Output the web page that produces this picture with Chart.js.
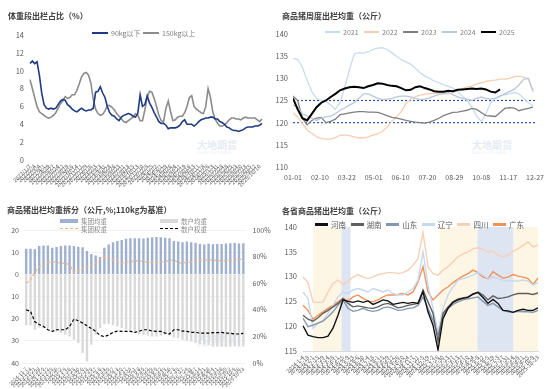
<!DOCTYPE html>
<html>
<head>
<meta charset="utf-8">
<script src="https://cdn.jsdelivr.net/npm/chart.js@4.4.1/dist/chart.umd.min.js"></script>
<style>
  body { margin: 0; background: #fff; font-family: "Noto Sans CJK SC", sans-serif; }
  #page { position: relative; width: 550px; height: 389px; overflow: hidden; }
  .panel { position: absolute; width: 275px; }
  .panel canvas { position: absolute; left: 0; top: 0; }
  .title { position: absolute; font-size: 8px; font-weight: bold; color: #404040; white-space: nowrap; line-height: 1; }
  .lg { position: absolute; font-size: 7px; color: #7f7f7f; white-space: nowrap; line-height: 1; display: flex; align-items: center; }
  .lg i { display: inline-block; margin-right: 3px; }
  .wm { position: absolute; color: #e6ecf3; font-weight: bold; font-size: 10px; line-height: 1; }
  .wm small { display: block; font-size: 4px; letter-spacing: 0.6px; font-weight: normal; }
</style>
</head>
<body>
<div id="page">
  <div class="panel" id="p1" style="left:0;top:0;height:195px">
    <div class="wm" style="left:197px;top:140px">大地期货<small>DADI FUTURES</small></div>
    <canvas id="c1" width="275" height="195"></canvas>
    <div class="title" style="left:8px;top:12px">体重段出栏占比（%）</div>
  </div>
  <div class="panel" id="p2" style="left:275px;top:0;height:195px">
    <div class="wm" style="left:197px;top:140px">大地期货<small>DADI FUTURES</small></div>
    <canvas id="c2" width="275" height="195"></canvas>
    <div class="title" style="left:7px;top:12px">商品猪周度出栏均重（公斤）</div>
  </div>
  <div class="panel" id="p3" style="left:0;top:195px;height:194px">
    <div class="wm" style="left:197px;top:138px">大地期货<small>DADI FUTURES</small></div>
    <canvas id="c3" width="275" height="194"></canvas>
    <div class="title" style="left:7px;top:11px">商品猪出栏均重拆分（公斤,%;110kg为基准）</div>
  </div>
  <div class="panel" id="p4" style="left:275px;top:195px;height:194px">
    <div class="wm" style="left:197px;top:140px">大地期货<small>DADI FUTURES</small></div>
    <canvas id="c4" width="275" height="194"></canvas>
    <div class="title" style="left:7px;top:12px">各省商品猪出栏均重（公斤）</div>
  </div>
</div>
<script>
// ---- data: 体重段出栏占比 (%), every two weeks
var p1Names = ['90kg以下', '150kg以上'];
var under90 = [10.8,11.1,10.8,11.0,9.5,7.5,6.2,5.8,5.7,5.8, 5.7,5.8,6.2,6.6,6.8,6.7,6.2,6.0,5.7,5.5,
  5.4,5.6,5.8,5.6,5.5,5.6,5.6,5.8,7.6,7.7, 8.2,7.5,7.0,6.0,5.3,5.0,4.9,4.6,4.4,4.8,
  5.0,5.1,5.2,5.1,4.9,4.8,5.2,7.3,6.0,6.2, 7.2,6.4,5.9,5.3,4.8,4.3,4.1,4.1,3.9,3.5,
  3.6,3.6,3.6,3.7,3.9,4.3,4.5,4.0,4.0,4.0, 3.8,4.0,4.3,4.5,4.6,4.7,4.7,4.8,4.8,4.6,
  4.6,4.3,4.2,4.0,3.7,3.6,3.4,3.3,3.3,3.2, 3.3,3.4,3.6,3.7,3.7,3.7,3.8,3.8,3.9,4.1];
var over150 = [9.0,8.0,7.0,6.0,5.4,5.2,5.0,4.8,4.7,4.8, 5.0,5.3,5.8,6.3,6.6,7.1,6.9,7.0,7.3,7.3,
  7.8,8.5,9.3,9.7,9.8,9.5,8.6,6.8,5.7,5.2, 5.0,5.1,5.5,6.1,6.1,5.9,5.6,5.2,4.9,4.6,
  4.3,4.2,4.4,4.6,4.8,5.2,5.0,4.4,4.4,5.6, 7.0,7.7,7.6,6.9,6.0,5.0,4.4,4.3,5.8,6.6,
  5.4,4.4,4.5,4.8,4.9,4.9,5.3,6.0,7.0,7.2, 6.0,5.7,5.5,5.3,5.2,6.0,8.0,7.0,5.4,4.6,
  4.1,3.8,3.8,3.9,4.2,4.5,4.7,4.7,4.6,4.6, 4.5,4.7,4.8,4.7,4.7,4.7,4.7,4.5,4.3,4.6];

// ---- data: 商品猪周度出栏均重 (公斤), weekly by year
var p2Years = ['2021', '2022', '2023', '2024', '2025'];
var y2021 = [134.5,134.3,132.5,129.5,127,125.5,125,124.8,124,123, 124.5,128,132,135.5,135.8,135.7,136,136.5,136.8,136.9,
  136.5,135.8,135,134.2,133.7,133.2,132.3,131.3,130.5,130, 129.4,129,128.6,128.2,127.8,127,126,125,123.5,121.5,
  120.3,122,124.5,125.5,126,126.3,126.5,126.8,126.5,125.5, 124.5,123.8];
var y2022 = [122.2,121.3,119.8,118.3,117.6,116.8,116.4,116.3,116.3,116.6, 117.2,117.2,117.1,116.8,116.6,116.6,116.8,117.2,117.5,118,
  119,120.3,121.3,122.5,124.3,125.3,125.9,126.2,126.4,126.6, 126.6,126.6,126.5,126.5,126.8,127.3,127.7,128,128.3,128.7,
  129,129.3,129.5,129.6,129.8,129.8,130,130.4,130.5,130.3, 129.8,127.4];
var y2023 = [126,125,121,119.5,120.5,121,121.2,120,120.3,120.8, 121.8,122,122.2,122.4,122.5,122.5,122.4,122.4,122.3,122,
  121.6,121.2,121,120.8,120.5,120.3,120.1,120,119.9,120.1, 120.5,121,121.6,122,122.3,122.4,122.6,122.8,123.2,123,
  122.3,121.6,121.5,121.4,122.3,123.2,123.4,123.3,122.7,123, 123.2,123.5];
var y2024 = [124,123.5,122,121.5,121,120.5,121,121.3,121.5,122, 122.8,123.3,124,124.5,125.5,126.5,126.5,126,125.5,125.2,
  125.3,125.5,125.8,126,126,125.8,125.5,125.2,125.3,125.6, 126,126.3,126.6,126.8,126.3,125.8,125.5,125.3,125,125.5,
  125.8,125.5,125.3,125.5,126,126.5,127,127.5,128.5,129.8, 130,127];
var y2025 = [125.5,123,121,120.5,122,123.5,124.5,125,125.8,126.5, 127.3,127.7,128,128.1,128,127.8,128.2,128.5,128.9,128.8,
  128.5,128.3,128.2,127.8,127.3,127.4,128,128.2,127.8,127.5, 127.1,127,127,127.2,127.1,127.4,127.5,127.6,127.7,127.6,
  127.7,127.5,127,126.8,127.5];
var refLevels = [125, 120];

// ---- data: 出栏均重拆分, weekly, deviation from 110kg and weights (%)
var p3Names = ['集团均重', '散户均重', '集团权重', '散户权重'];
var groupDev = [11.5,11.5,11.3,12.8,13,13,12,12.3,12.8,13, 13,12.8,12.5,12.2,10.5,9.2,8.5,7.8,12,13.5,
  14.5,15,15.5,16,16.3,16.3,16.3,16.2,16.5,16.7, 16.8,16.7,16.5,16.3,15,14.8,14.5,14.8,14.5,14.2,
  13.7,13.5,13.8,13.6,13.7,13.7,13.9,14,14.1,13.9, 14];
var retailDev = [23,23,25,24,24.3,24.3,25,25.8,26.5,27.3, 28,29.5,31,35.5,39.3,31.8,27.3,24.3,22.5,22.3,
  23,23.5,24.3,25,25.8,26.5,27,27.3,27.6,28, 28,27.7,27.3,27.6,28.5,28.8,29.5,30,30.3,31,
  31.5,31.8,32,32.5,32.5,32.5,32.5,32.5,32.5,32.5, 32.5];
var groupShare = [60,62.5,68,72.5,74,75.5,76,75.8,75,75, 74,68,69,70.8,72.5,74,75,78,80,80,
  77.5,76,75,76,76,77,76.5,76.5,75.8,75.5, 75.5,76,76.5,77,77.5,75.5,75,75.8,76,76.5,
  77.5,77.5,77.5,77.3,77,77,77,77.3,77.5,78, 78];
var retailShare = [40,38.8,31,29,27.5,25,23.8,25,25,25, 27.5,33,31.8,30,28,26,23.8,20.8,19.8,21,
  23,24,23.8,23.8,23.8,23,23.8,25,25,24, 23.8,23.8,22.5,21.8,25,25,24,23.8,23,23,
  22.5,22.5,22.5,22.8,22.8,23,22.5,22.3,21.8,21.8, 22.3];

// ---- data: 各省商品猪出栏均重 (公斤), every two weeks
var p4Names = ['河南', '湖南', '山东', '辽宁', '四川', '广东'];
var henan = [120.1,118.2,117.9,117.7,117.7,118,119.6,122.2,125.3,125, 124.8,125.1,124.8,125.1,124.4,124.8,125.3,125.1,124.4,124.6,
  124.8,124.6,124.8,124.6,126.9,122.9,120.2,115.2,121.5,123.6, 124.8,125.3,125.6,125.8,126.5,126.8,125.8,124.6,125.4,124.6,
  123.2,123.1,122.8,123.2,123.4,123.2,123.2,123.7];
var hunan = [122.2,121.4,121,121.7,122.6,123.2,123.9,124.6,125.6,124.6, 123.9,124.1,123.9,123.7,123.6,123.9,124.4,124.6,124.2,123.7,
  123.9,124.2,124.4,124.6,127.3,124.9,122.6,116.9,122.6,123.9, 124.9,125.5,125.7,125.9,126.4,126.9,126.3,125.3,126.1,125.6,
  125.7,125.9,126.3,126.6,126.6,126.6,126.4,126.7];
var shandong = [121.6,119.9,120.2,120.6,121,121.9,122.9,124.2,125.3,123.6, 123,123.2,123.6,123.2,123,123.2,123.7,123.9,123.6,123.2,
  123.3,123.6,123.7,124.2,125.9,123.6,121.2,118.2,122.2,123.6, 124.4,124.9,125.3,125.5,125.7,125.9,125,124.2,124.6,123.9,
  123.2,122.9,122.8,123,122.9,122.9,122.8,123.2];
var liaoning = [126.9,125.6,119.6,120.6,121.2,122.6,124.2,125.9,126.9,126.6, 127.3,127.6,127.3,126.9,127.6,127.3,126.9,127.3,126.6,126.3,
  126.3,126.9,127.6,129.3,135,128.3,123.6,118.9,123.6,126.3, 127.9,129.3,129.6,129.9,130.3,130.8,130.3,129.6,129.9,129.6,
  129.3,129.1,129.1,129.1,129.3,129.1,128.3,128.8];
var sichuan = [129.9,128.8,124.9,124.8,124.9,126.9,128.6,129.3,128.4,129.1, 129.9,130.4,129.9,129.6,129.9,130.4,130.6,130.8,130.8,130.6,
  130.8,131.3,132.3,133.6,138.9,132,130.6,130.3,131.3,132, 133,134,134.6,135,135.6,135.8,135.5,135,135.1,134.3,
  134,134.3,135.1,135.6,136.3,137,136,136.4];
var guangdong = [124.2,123.2,121.4,122.2,122.9,123.6,124.2,124.9,125.6,125.1, 125.9,126.3,125.6,125.1,124.9,125.3,125.9,126.3,126.3,126.4,
  126.6,126.3,126.9,128.9,132,126.9,125.3,126.3,127.3,127.9, 128.8,129.5,130.1,130.6,131.3,130.8,129.9,129.6,131,130.3,
  129.7,129.9,130.4,130.1,129.9,129.6,128.4,129.7];
// shaded periods, as positions on the date axis (start index, end index)
var p4Bands = [[2, 7.7, '#fdf6e4'], [7.7, 9.5, '#dde5f2'], [27.3, 34.9, '#fdf6e4'], [34.9, 42.1, '#dde5f2'], [42.1, 47, '#fdf6e4']];

function fmt(d, sep) { return d.getFullYear() + sep + (d.getMonth() + 1) + sep + d.getDate(); }
function dateRange(y, m, d, n, step, sep) {
  var out = [];
  for (var i = 0; i < n; i++) out.push(fmt(new Date(y, m - 1, d + i * step), sep));
  return out;
}
var p1Dates = dateRange(2022, 1, 7, under90.length, 14, '/');
var p3Dates = dateRange(2024, 11, 7, groupDev.length, 7, '-');
var p4Dates = dateRange(2024, 1, 4, henan.length, 14, '-');

Chart.defaults.font.family = '"Noto Sans CJK SC", "Liberation Sans", sans-serif';
Chart.defaults.color = '#595959';
Chart.defaults.animation = false;

function addLegend(panelId, items, fontSize, color) {
  var panel = document.getElementById(panelId);
  items.forEach(function (it) {
    var d = document.createElement('div');
    d.className = 'lg';
    d.style.left = it.left + 'px';
    d.style.top = it.top + 'px';
    if (fontSize) d.style.fontSize = fontSize + 'px';
    if (color) d.style.color = color;
    var sw = document.createElement('i');
    sw.style.width = it.w + 'px';
    if (it.dash) { sw.style.height = '0'; sw.style.borderTop = it.h + 'px dashed ' + it.color; }
    else { sw.style.height = it.h + 'px'; sw.style.background = it.color; }
    d.appendChild(sw);
    d.appendChild(document.createTextNode(it.text));
    panel.appendChild(d);
  });
}

var noPlugins = { legend: { display: false }, tooltip: { enabled: false } };
var noGrid = { display: false, drawTicks: false };

// chart 1
new Chart(document.getElementById('c1'), {
  type: 'line',
  data: {
    labels: p1Dates,
    datasets: [
      { label: p1Names[0], data: under90, borderColor: '#1f3b84', borderWidth: 1.6, pointRadius: 0 },
      { label: p1Names[1], data: over150, borderColor: '#8c8c8c', borderWidth: 1.6, pointRadius: 0 }
    ]
  },
  options: {
    responsive: false,
    layout: { padding: { left: 0, right: 13, top: 35, bottom: 0 } },
    plugins: noPlugins,
    scales: {
      x: {
        grid: noGrid, border: { display: false },
        ticks: { autoSkip: false, minRotation: 45, maxRotation: 45, font: { size: 5.5 }, padding: 3,
          callback: function (v, i) { return i % 2 === 0 ? p1Dates[i] : ''; } },
        afterFit: function (s) { s.height = 35; }
      },
      y: {
        min: 0, max: 14,
        grid: noGrid, border: { display: false },
        ticks: { stepSize: 2, font: { size: 7.5 }, padding: 6 },
        afterFit: function (s) { s.width = 30; }
      }
    }
  }
});
addLegend('p1', [
  { text: p1Names[0], color: '#1f3b84', left: 92, top: 29.5, w: 16, h: 2 },
  { text: p1Names[1], color: '#8c8c8c', left: 143, top: 29.5, w: 16, h: 2 }
], 7, '#7f7f7f');

// chart 2
function weekly(arr) { return arr.map(function (v, i) { return { x: i * 7, y: v }; }); }
var p2Colors = ['#c9dbf1', '#f8cdb0', '#7f7f7f', '#b7c7de', '#000000'];
var p2Series = [y2021, y2022, y2023, y2024, y2025];
var p2Sets = [];
for (var k = p2Series.length - 1; k >= 0; k--) {
  p2Sets.push({ label: p2Years[k], data: weekly(p2Series[k]), borderColor: p2Colors[k],
    borderWidth: k === 4 ? 2 : 1.3, pointRadius: 0 });
}
refLevels.forEach(function (lv) {
  p2Sets.push({ label: 'ref' + lv, data: [{ x: 0, y: lv }, { x: 360, y: lv }], borderColor: '#2e54a8',
    borderWidth: 1.2, borderDash: [2, 2], pointRadius: 0 });
});
new Chart(document.getElementById('c2'), {
  type: 'line',
  data: { datasets: p2Sets },
  options: {
    responsive: false,
    layout: { padding: { left: 0, right: 12, top: 34, bottom: 0 } },
    plugins: noPlugins,
    scales: {
      x: {
        type: 'linear', min: 0, max: 360,
        grid: noGrid, border: { display: false },
        ticks: { stepSize: 40, font: { size: 7 }, maxRotation: 0, padding: 6,
          callback: function (v) {
            var d = new Date(2025, 0, 1 + v);
            return String(d.getMonth() + 1).padStart(2, '0') + '-' + String(d.getDate()).padStart(2, '0');
          } },
        afterFit: function (s) { s.height = 28; }
      },
      y: {
        min: 110, max: 140,
        grid: noGrid, border: { display: false },
        ticks: { stepSize: 5, font: { size: 7.5 }, padding: 5 },
        afterFit: function (s) { s.width = 18; }
      }
    }
  }
});
addLegend('p2', p2Years.map(function (y, i) {
  return { text: y, color: p2Colors[i], left: 50 + i * 39, top: 28.5, w: 15, h: i === 4 ? 2.5 : 2 };
}), 7, '#7f7f7f');

// chart 3
new Chart(document.getElementById('c3'), {
  data: {
    labels: p3Dates,
    datasets: [
      { type: 'line', label: p3Names[3], data: retailShare, yAxisID: 'y1', borderColor: '#000000',
        borderWidth: 1.2, borderDash: [3, 2], pointRadius: 0 },
      { type: 'line', label: p3Names[2], data: groupShare, yAxisID: 'y1', borderColor: '#f4b183',
        borderWidth: 1.2, borderDash: [3, 2], pointRadius: 0 },
      { type: 'bar', label: p3Names[0], data: groupDev, yAxisID: 'y', backgroundColor: '#9eb0cd',
        barPercentage: 0.55, categoryPercentage: 1 },
      { type: 'bar', label: p3Names[1], data: retailDev.map(function (v) { return -v; }), yAxisID: 'y',
        backgroundColor: '#d9d9d9', barPercentage: 0.55, categoryPercentage: 1 }
    ]
  },
  options: {
    responsive: false,
    layout: { padding: { left: 0, right: 0, top: 35, bottom: 0 } },
    plugins: noPlugins,
    scales: {
      x: {
        stacked: true,
        grid: noGrid, border: { display: false },
        ticks: { autoSkip: false, minRotation: 45, maxRotation: 45, font: { size: 5 }, padding: 3 },
        afterFit: function (s) { s.height = 26; }
      },
      y: {
        stacked: true, min: -40, max: 20,
        grid: { color: '#eeeeee', lineWidth: 0.8, drawTicks: false }, border: { display: false },
        ticks: { stepSize: 5, font: { size: 7 }, padding: 5, callback: function (v) { return Math.abs(v); } },
        afterFit: function (s) { s.width = 24; }
      },
      y1: {
        position: 'right', min: 0, max: 100,
        grid: noGrid, border: { display: false },
        ticks: { stepSize: 20, font: { size: 7 }, padding: 7, callback: function (v) { return v + '%'; } },
        afterFit: function (s) { s.width = 29.5; }
      }
    }
  }
});
addLegend('p3', [
  { text: p3Names[0], color: '#9eb0cd', left: 60, top: 22.5, w: 18, h: 4.5 },
  { text: p3Names[1], color: '#d9d9d9', left: 160, top: 22.5, w: 18, h: 4.5 },
  { text: p3Names[2], color: '#f4b183', left: 60, top: 30.5, w: 18, h: 1.2, dash: true },
  { text: p3Names[3], color: '#000000', left: 160, top: 30.5, w: 18, h: 1.2, dash: true }
], 6.5, '#8c8c8c');

// chart 4
var bandPlugin = {
  id: 'bands',
  beforeDatasetsDraw: function (chart, args, opts) {
    var ctx = chart.ctx, a = chart.chartArea, x = chart.scales.x;
    ctx.save();
    opts.bands.forEach(function (b) {
      var x0 = x.getPixelForValue(b[0]), x1 = x.getPixelForValue(b[1]);
      ctx.fillStyle = b[2];
      ctx.fillRect(x0, a.top, x1 - x0, a.bottom - a.top);
    });
    ctx.restore();
  }
};
var p4Colors = ['#111111', '#5f5f5f', '#8497b0', '#c6d9f0', '#f9cfb3', '#f0915c'];
var p4Series = [henan, hunan, shandong, liaoning, sichuan, guangdong];
new Chart(document.getElementById('c4'), {
  type: 'line',
  data: {
    labels: p4Dates,
    datasets: p4Series.map(function (s, i) {
      return { label: p4Names[i], data: s, borderColor: p4Colors[i], borderWidth: 1.4, pointRadius: 0 };
    })
  },
  options: {
    responsive: false,
    layout: { padding: { left: 0, right: 12, top: 32, bottom: 0 } },
    plugins: { legend: { display: false }, tooltip: { enabled: false }, bands: { bands: p4Bands } },
    scales: {
      x: {
        grid: noGrid, border: { color: '#d9d9d9' },
        ticks: { autoSkip: false, minRotation: 45, maxRotation: 45, font: { size: 5.5 }, padding: 3 },
        afterFit: function (s) { s.height = 38; }
      },
      y: {
        min: 115, max: 140,
        grid: noGrid, border: { display: false },
        ticks: { stepSize: 5, font: { size: 7.5 }, padding: 6 },
        afterFit: function (s) { s.width = 28; }
      }
    }
  },
  plugins: [bandPlugin]
});
addLegend('p4', p4Names.map(function (n, i) {
  return { text: n, color: p4Colors[i], left: 40 + i * 35.6, top: 26, w: 13, h: 3 };
}), 7.5, '#595959');
</script>
</body>
</html>
